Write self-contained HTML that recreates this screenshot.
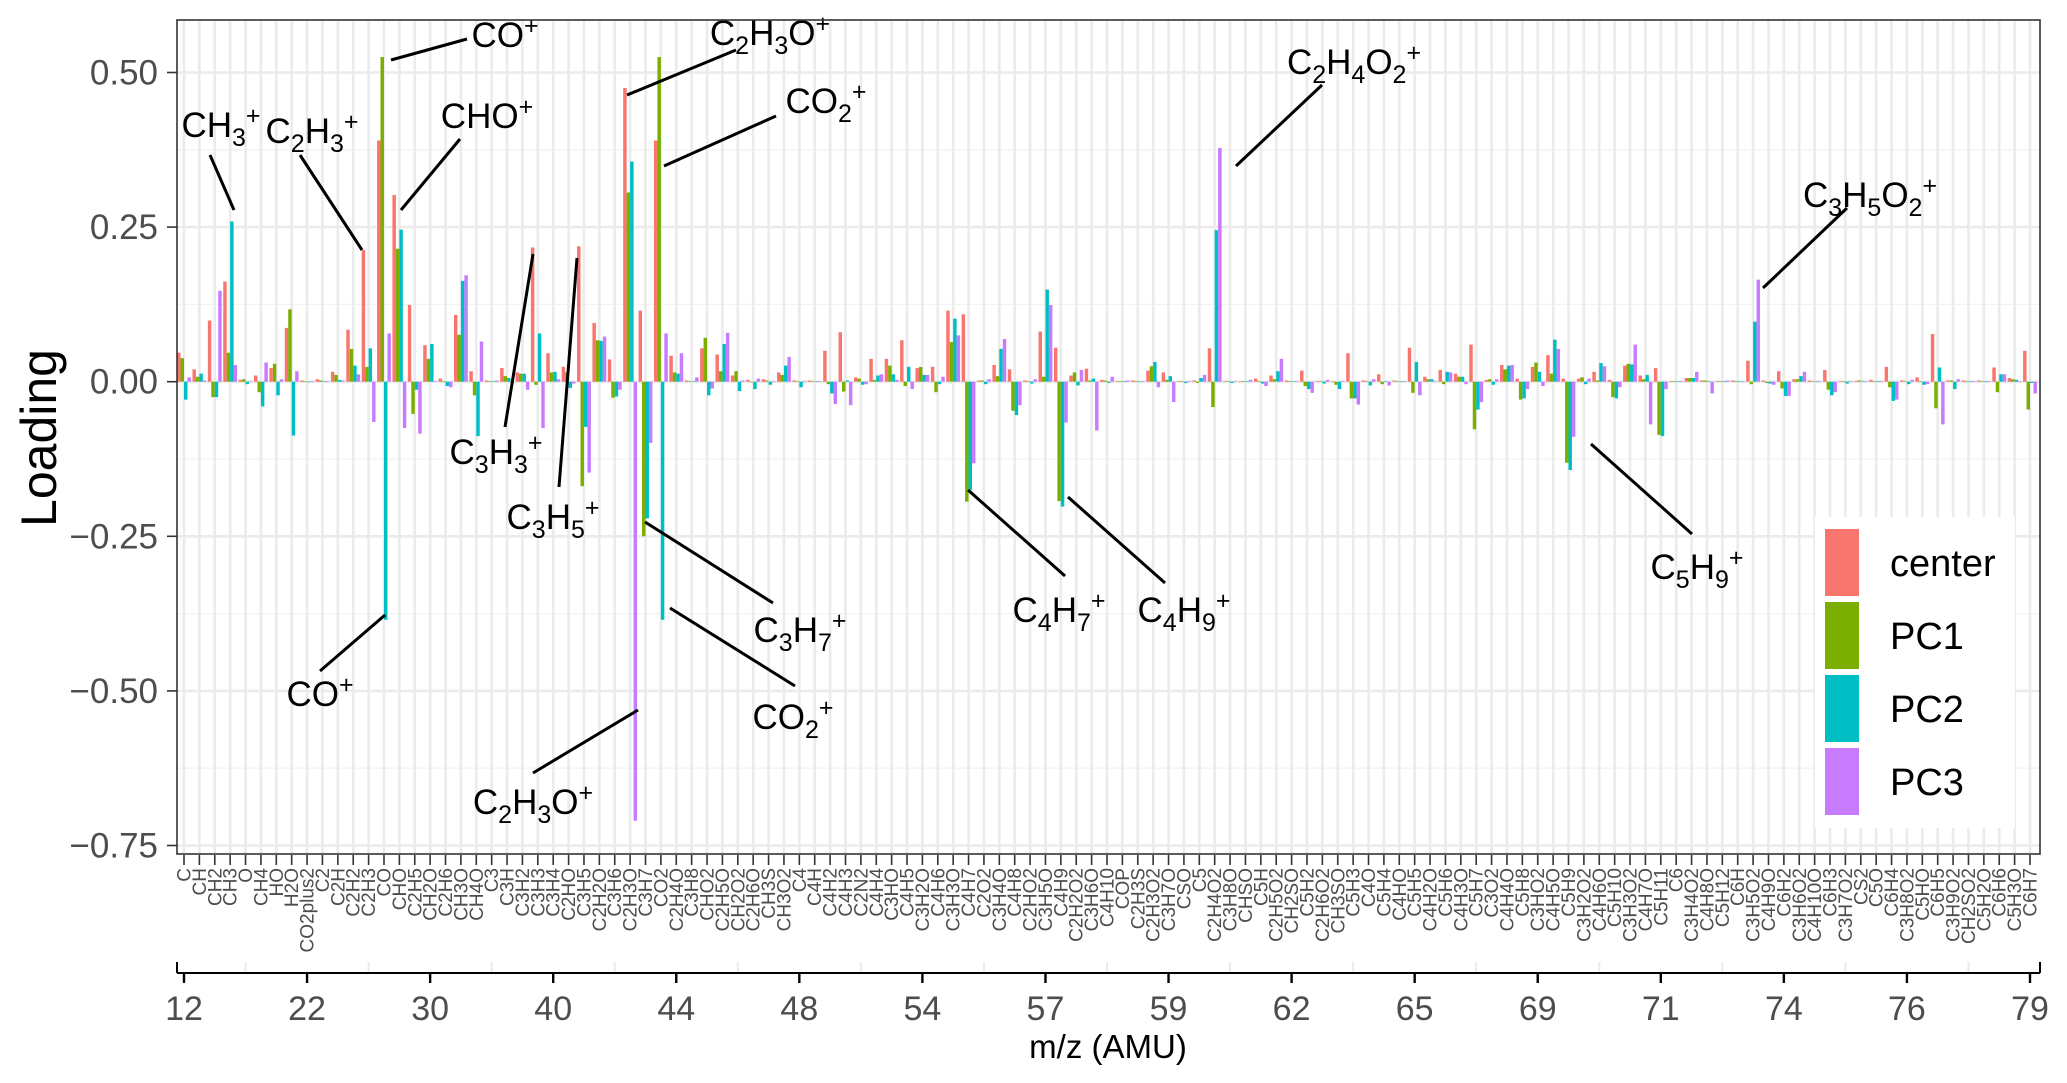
<!DOCTYPE html>
<html><head><meta charset="utf-8"><style>
html,body{margin:0;padding:0;background:#fff}
svg{display:block;font-family:"Liberation Sans",Arial,sans-serif}
</style></head><body>
<svg id="chart" width="2067" height="1083" viewBox="0 0 2067 1083" xmlns="http://www.w3.org/2000/svg">
<rect x="0" y="0" width="2067" height="1083" fill="#fff"/>
<g id="grid"></g>
<g id="bars"></g>
<g id="annot"></g>
<rect x="1815" y="517" width="200" height="311" fill="#fff"/>
<g font-size="38" fill="#000">
 <g><rect x="1825" y="529" width="34" height="67" fill="#F8766D"/><text x="1890" y="576">center</text></g>
 <g><rect x="1825" y="602" width="34" height="67" fill="#7CAE00"/><text x="1890" y="649">PC1</text></g>
 <g><rect x="1825" y="675" width="34" height="67" fill="#00BFC4"/><text x="1890" y="722">PC2</text></g>
 <g><rect x="1825" y="748" width="34" height="67" fill="#C77CFF"/><text x="1890" y="795">PC3</text></g>
</g>
<rect x="177" y="20" width="1863" height="834" fill="none" stroke="#333" stroke-width="1.6"/>
<g id="yaxis"></g>
<g id="xaxis"></g>
<g id="xaxis2"></g>
<text x="0" y="0" font-size="50" text-anchor="middle" transform="translate(56,438) rotate(-90)">Loading</text>
<text x="1108" y="1058" font-size="33" text-anchor="middle">m/z (AMU)</text>
</svg>
<script>
const categories = ["C","CH","CH2","CH3","O","CH4","HO","H2O","CO2plus2","C2","C2H","C2H2","C2H3","CO","CHO","C2H5","CH2O","C2H6","CH3O","CH4O","C3","C3H","C3H2","C3H3","C3H4","C2HO","C3H5","C2H2O","C3H6","C2H3O","C3H7","CO2","C2H4O","C3H8","CHO2","C2H5O","CH2O2","C2H6O","CH3S","CH3O2","C4","C4H","C4H2","C4H3","C2N2","C4H4","C3HO","C4H5","C3H2O","C4H6","C3H3O","C4H7","C2O2","C3H4O","C4H8","C2HO2","C3H5O","C4H9","C2H2O2","C3H6O","C4H10","COP","C2H3S","C2H3O2","C3H7O","CSO","C5","C2H4O2","C3H8O","CHSO","C5H","C2H5O2","CH2SO","C5H2","C2H6O2","CH3SO","C5H3","C4O","C5H4","C4HO","C5H5","C4H2O","C5H6","C4H3O","C5H7","C3O2","C4H4O","C5H8","C3HO2","C4H5O","C5H9","C3H2O2","C4H6O","C5H10","C3H3O2","C4H7O","C5H11","C6","C3H4O2","C4H8O","C5H12","C6H","C3H5O2","C4H9O","C6H2","C3H6O2","C4H10O","C6H3","C3H7O2","CS2","C5O","C6H4","C3H8O2","C5HO","C6H5","C3H9O2","CH2SO2","C5H2O","C6H6","C5H3O","C6H7"];
const centerVals = [0.047,0.02,0.099,0.162,0.003,0.01,0.022,0.087,0.002,0.004,0.016,0.084,0.213,0.39,0.302,0.124,0.059,0.005,0.108,0.017,0.002,0.022,0.015,0.217,0.046,0.024,0.219,0.095,0.036,0.475,0.115,0.39,0.042,0.002,0.054,0.044,0.01,0.003,0.004,0.015,0.002,0.002,0.05,0.08,0.007,0.037,0.037,0.067,0.022,0.024,0.115,0.109,0.002,0.027,0.02,0.002,0.081,0.055,0.01,0.021,0.003,0.001,0.002,0.018,0.015,0.001,0.002,0.054,0.001,0.001,0.005,0.01,0.002,0.018,0.001,0.001,0.046,0.002,0.012,0.002,0.055,0.008,0.019,0.013,0.06,0.003,0.027,0.005,0.024,0.043,0.005,0.005,0.016,0.003,0.026,0.01,0.022,0.001,0.006,0.002,0.001,0.002,0.034,0.002,0.017,0.004,0.002,0.019,0.001,0.001,0.003,0.024,0.002,0.007,0.077,0.002,0.002,0.002,0.023,0.006,0.05];
const pc1Vals = [0.038,0.008,-0.025,0.047,0.004,-0.017,0.029,0.117,0.001,0.002,0.011,0.053,0.024,0.525,0.215,-0.052,0.037,0.001,0.076,-0.022,0.001,0.009,0.013,-0.005,0.015,0.015,-0.169,0.067,-0.026,0.306,-0.25,0.525,0.015,0.001,0.071,0.017,0.017,-0.001,0.002,0.011,0.001,0.001,-0.004,-0.016,0.005,0.003,0.026,-0.007,0.024,-0.017,0.064,-0.194,0.002,0.009,-0.047,0.001,0.008,-0.193,0.015,0.002,0.002,0.001,0.001,0.025,0.003,0.001,-0.002,-0.041,0.001,0.001,0.001,0.004,0.001,-0.007,0.001,-0.005,-0.027,0.001,-0.004,0.001,-0.018,0.004,-0.004,0.008,-0.077,0.004,0.02,-0.029,0.031,0.013,-0.131,0.007,0.002,-0.025,0.029,0.004,-0.086,0.001,0.006,0.002,0.001,0.001,-0.004,-0.002,-0.011,0.004,0.001,-0.013,0.001,0.002,0.001,-0.009,0.001,0.001,-0.043,0.002,0.001,0.001,-0.017,0.004,-0.045];
const pc2Vals = [-0.029,0.013,-0.025,0.259,-0.004,-0.04,-0.022,-0.087,-0.001,0.001,0.003,0.026,0.054,-0.385,0.246,-0.013,0.061,-0.007,0.163,-0.088,0.001,0.006,0.013,0.078,0.016,-0.01,-0.073,0.066,-0.024,0.356,-0.221,-0.385,0.013,0.001,-0.022,0.061,-0.015,-0.012,-0.005,0.026,-0.009,0.001,-0.019,0.002,-0.005,0.01,0.012,0.024,0.011,-0.004,0.102,-0.175,-0.004,0.053,-0.054,-0.003,0.149,-0.202,-0.006,0.005,-0.002,0.001,0.001,0.032,0.009,-0.002,0.006,0.245,-0.002,0.001,-0.003,0.017,0.001,-0.012,-0.003,-0.012,-0.027,-0.006,0.001,0.001,0.032,0.004,0.016,0.008,-0.045,-0.005,0.026,-0.027,0.016,0.068,-0.143,-0.004,0.03,-0.027,0.028,0.011,-0.088,0.001,0.006,0.001,0.001,0.001,0.097,-0.003,-0.023,0.009,0.001,-0.022,-0.003,0.001,0.001,-0.031,-0.004,-0.005,0.023,-0.012,0.001,0.001,0.012,0.003,-0.002];
const pc3Vals = [0.007,0.002,0.147,0.027,0.001,0.031,0.004,0.017,0.001,0.001,0.002,0.012,-0.065,0.078,-0.075,-0.084,0.001,-0.009,0.172,0.065,0.002,-0.003,-0.013,-0.075,0.004,-0.003,-0.147,0.073,-0.013,-0.71,-0.099,0.078,0.046,0.007,-0.011,0.079,0.002,0.005,0.001,0.04,0.001,0.001,-0.036,-0.038,-0.004,0.012,0.003,-0.012,0.011,0.008,0.075,-0.132,0.004,0.069,-0.038,0.004,0.124,-0.066,0.019,-0.079,0.008,0.002,0.001,-0.009,-0.033,0.001,0.011,0.378,0.001,0.003,-0.007,0.037,0.001,-0.018,0.003,0.001,-0.037,0.004,-0.006,0.001,-0.022,0.001,0.015,-0.004,-0.033,0.004,0.027,-0.012,-0.007,0.053,-0.089,0.005,0.025,-0.009,0.06,-0.069,-0.012,0.001,0.016,-0.019,0.002,0.001,0.165,-0.005,-0.023,0.016,0.001,-0.017,0.001,0.001,0.001,-0.029,0.003,-0.004,-0.069,0.004,0.001,0.001,0.012,0.001,-0.019];
const yTicks = [0.5,0.25,0,-0.25,-0.5,-0.75];
const yTickLabels = ["0.50","0.25","0.00","\u22120.25","\u22120.50","\u22120.75"];
const mzLabels = ["12","22","30","40","44","48","54","57","59","62","65","69","71","74","76","79"];

const NS="http://www.w3.org/2000/svg";
const PL=177, PR=2040, PT=20, PB=854;
const X0=184, STEP=(2030-184)/120;
const Y0=381.7, YS=618.4;
function xs(i){return X0+STEP*i;}
function ys(v){return Y0-v*YS;}
function mk(tag,attrs,parent){const e=document.createElementNS(NS,tag);for(const k in attrs)e.setAttribute(k,attrs[k]);parent.appendChild(e);return e;}

const grid=document.getElementById('grid');
mk('rect',{x:PL,y:PT,width:PR-PL,height:PB-PT,fill:'#fff'},grid);
for(let k=0;k<yTicks.length-1;k++){const v=(yTicks[k]+yTicks[k+1])/2;const l=mk('line',{x1:PL,x2:PR,y1:ys(v),y2:ys(v),stroke:'#F2F2F2','stroke-width':1.3},grid);

}
{const v=0.625;if(ys(v)>PT){mk('line',{x1:PL,x2:PR,y1:ys(v),y2:ys(v),stroke:'#F2F2F2','stroke-width':1.3},grid);}}
yTicks.forEach(v=>{const l=mk('line',{x1:PL,x2:PR,y1:ys(v),y2:ys(v),stroke:'#EBEBEB','stroke-width':2.6},grid);

});
categories.forEach((c,i)=>{const l=mk('line',{x1:xs(i),x2:xs(i),y1:PT,y2:PB,stroke:'#EBEBEB','stroke-width':2.6},grid);

});

const series=[["center",centerVals,"#F8766D"],["pc1",pc1Vals,"#7CAE00"],["pc2",pc2Vals,"#00BFC4"],["pc3",pc3Vals,"#C77CFF"]];
const bars=document.getElementById('bars');
const bw=STEP*0.9/4;
series.forEach((s,si)=>{s[1].forEach((v,i)=>{const x=xs(i)-2*bw+si*bw;const y=Math.min(ys(v),ys(0));const h=Math.abs(ys(v)-ys(0));
const r=mk('rect',{x:x.toFixed(2),y:y.toFixed(2),width:bw.toFixed(2),height:Math.max(h,0.3).toFixed(2),fill:s[2]},bars);

});});

const ya=document.getElementById('yaxis');
yTicks.forEach((v,k)=>{mk('line',{x1:167,x2:177,y1:ys(v),y2:ys(v),stroke:'#333','stroke-width':1.6},ya);
const t=mk('text',{x:158,y:ys(v)+12,'font-size':35,'text-anchor':'end',fill:'#4D4D4D'},ya);t.textContent=yTickLabels[k];

});

const xa=document.getElementById('xaxis');
categories.forEach((c,i)=>{mk('line',{x1:xs(i),x2:xs(i),y1:855,y2:865,stroke:'#333','stroke-width':1.6},xa);
const t=mk('text',{x:0,y:0,'font-size':19,'text-anchor':'end',fill:'#4D4D4D',transform:`translate(${xs(i)+6.5},868) rotate(-90)`},xa);t.textContent=c;

});

const xa2=document.getElementById('xaxis2');
mk('line',{x1:177,x2:2040,y1:973,y2:973,stroke:'#000','stroke-width':2},xa2);
mk('line',{x1:177,x2:177,y1:962,y2:973,stroke:'#000','stroke-width':2},xa2);
mk('line',{x1:2040,x2:2040,y1:962,y2:973,stroke:'#000','stroke-width':2},xa2);
const mstep=(2030-184)/(mzLabels.length-1);
mzLabels.forEach((m,k)=>{const x=184+mstep*k;
if(k<mzLabels.length-1)mk('line',{x1:x+mstep/2,x2:x+mstep/2,y1:962,y2:972,stroke:'#EBEBEB','stroke-width':2},xa2);
mk('line',{x1:x,x2:x,y1:973,y2:983,stroke:'#000','stroke-width':2.4},xa2);
const t=mk('text',{x:x,y:1020,'font-size':34,'text-anchor':'middle',fill:'#4D4D4D'},xa2);t.textContent=m;

});

// annotations: [parts, cx, cy, x1,y1,x2,y2]
const annots=[
[["C",""],["3","s"],["H",""],["3","s"],["+","p"]],
];
const A=[
["CH3+",[["C"],["H"],["3","s"],["+","p"]],221,125,210,155,234,210],
["C2H3+",[["C"],["2","s"],["H"],["3","s"],["+","p"]],312,131,300,155,362,250],
["CO+",[["CO"],["+","p"]],505,35,391,60,467,39],
["CHO+",[["CHO"],["+","p"]],487,116,460,139,401,210],
["C2H3O+",[["C"],["2","s"],["H"],["3","s"],["O"],["+","p"]],770,33,627,95,736,50],
["CO2+",[["CO"],["2","s"],["+","p"]],826,101,664,166,776,116],
["C2H4O2+",[["C"],["2","s"],["H"],["4","s"],["O"],["2","s"],["+","p"]],1354,62,1236,166,1322,85],
["C3H5O2+",[["C"],["3","s"],["H"],["5","s"],["O"],["2","s"],["+","p"]],1870,195,1763,288,1847,208],
["C3H3+",[["C"],["3","s"],["H"],["3","s"],["+","p"]],496,452,505,427,533,254],
["C3H5+",[["C"],["3","s"],["H"],["5","s"],["+","p"]],553,517,559,487,577,258],
["CO+b",[["CO"],["+","p"]],320,694,320,671,385,615],
["C2H3O+b",[["C"],["2","s"],["H"],["3","s"],["O"],["+","p"]],533,802,533,773,638,710],
["C3H7+",[["C"],["3","s"],["H"],["7","s"],["+","p"]],800,630,645,522,773,603],
["CO2+b",[["CO"],["2","s"],["+","p"]],793,717,670,608,795,686],
["C4H7+",[["C"],["4","s"],["H"],["7","s"],["+","p"]],1059,610,968,490,1065,576],
["C4H9+",[["C"],["4","s"],["H"],["9","s"],["+","p"]],1184,610,1068,497,1165,583],
["C5H9+",[["C"],["5","s"],["H"],["9","s"],["+","p"]],1697,567,1591,444,1692,534]
];
const an=document.getElementById('annot');
A.forEach(a=>{const g=mk('g',{},an);


mk('line',{x1:a[4],y1:a[5],x2:a[6],y2:a[7],stroke:'#000','stroke-width':3},g);
const t=mk('text',{x:a[2],y:a[3]+12,'font-size':35,'text-anchor':'middle',fill:'#000'},g);
let state='n';
a[1].forEach(p=>{const ts=mk('tspan',{},t);const want=p[1]||'n';
let dy=0;let fs=35;
if(want==='s'){fs=25;dy=(state==='s')?0:(state==='p'?22:9);}
else if(want==='p'){fs=25;dy=(state==='s')?-22:-13;}
else{dy=(state==='s')?-9:(state==='p'?13:0);}
ts.setAttribute('font-size',fs);if(dy)ts.setAttribute('dy',dy);ts.textContent=p[0];state=want;});
});
</script>
</body></html>
